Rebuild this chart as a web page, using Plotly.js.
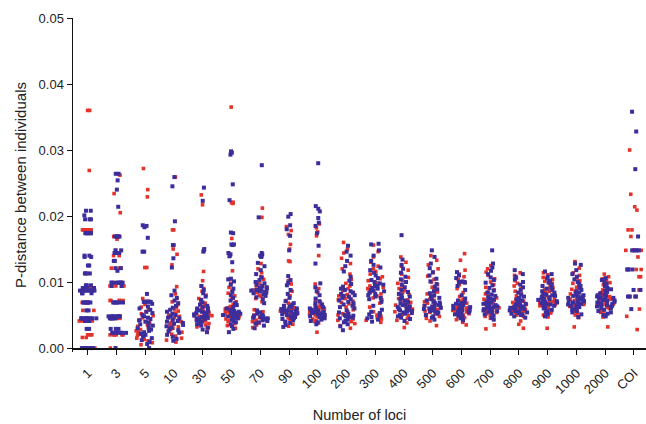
<!DOCTYPE html>
<html><head><meta charset="utf-8">
<script src="https://cdn.plot.ly/plotly-3.0.1.min.js"></script>
<style>html,body{margin:0;padding:0;background:#fff}#chart{width:646px;height:424px}</style>
</head><body><div id="chart"></div>
<script>
const categories = ["1","3","5","10","30","50","70","90","100","200","300","400","500","600","700","800","900","1000","2000","COI"];

const red_1 = [0.0360,0.0360,0.0269,0.0179,0.0179,0.0179,0.0179,0.0179,0.0179,0.0179,0.0179,0.0174,0.0174,0.0113,0.0113,0.0091,0.0091,0.0091,0.0091,0.0069,0.0069,0.0069,0.0069,0.0057,0.0057,0.0041,0.0041,0.0041,0.0041,0.0041,0.0041,0.0020,0.0020,0.0020,0.0016,0.0016,0,0,0];
const blue_1 = [0.0208,0.0208,0.0201,0.0195,0.0195,0.0195,0.0174,0.0174,0.0174,0.0174,0.0174,0.0174,0.0140,0.0140,0.0138,0.0138,0.0125,0.0125,0.0113,0.0113,0.0113,0.0095,0.0095,0.0095,0.0091,0.0091,0.0091,0.0091,0.0087,0.0087,0.0087,0.0087,0.0087,0.0087,0.0087,0.0087,0.0083,0.0083,0.0083,0.0069,0.0069,0.0069,0.0069,0.0069,0.0069,0.0057,0.0057,0.0045,0.0045,0.0045,0.0045,0.0045,0.0045,0.0045,0.0045,0.0045,0.0045,0.0041,0.0041,0.0029,0.0029,0,0,0,0,0,0,0];

const red_3 = [0.0262,0.0234,0.0205,0.0169,0.0169,0.0165,0.0148,0.0140,0.0140,0.0121,0.0121,0.0121,0.0099,0.0099,0.0099,0.0099,0.0094,0.0094,0.0094,0.0072,0.0072,0.0072,0.0072,0.0072,0.0045,0.0045,0.0045,0.0045,0.0045,0.0020,0.0020,0.0020,0.0020,0.0020,0.0020,0];
const blue_3 = [0.0264,0.0264,0.0254,0.0240,0.0214,0.0169,0.0169,0.0169,0.0169,0.0169,0.0148,0.0148,0.0144,0.0144,0.0144,0.0144,0.0144,0.0132,0.0132,0.0121,0.0121,0.0117,0.0099,0.0099,0.0099,0.0099,0.0099,0.0099,0.0099,0.0099,0.0094,0.0094,0.0069,0.0069,0.0069,0.0069,0.0069,0.0069,0.0048,0.0048,0.0048,0.0048,0.0048,0.0048,0.0048,0.0048,0.0045,0.0045,0.0045,0.0045,0.0045,0.0029,0.0029,0.0029,0.0023,0.0023,0.0023,0.0023,0.0023,0.0023,0.0023,0.0023,0];

const red_5 = [0.0272,0.0240,0.0229,0.0122,0.0122,0.0075,0.0071,0.0066,0.0062,0.0058,0.0055,0.0052,0.0049,0.0046,0.0043,0.0040,0.0038,0.0035,0.0033,0.0030,0.0028,0.0026,0.0024,0.0021,0.0019,0.0017,0.0015,0.0013,0.0011,0.0008,0.0005];
const blue_5 = [0.0186,0.0185,0.0183,0.0167,0.0146,0.0146,0.0082,0.0070,0.0070,0.0070,0.0070,0.0070,0.0070,0.0067,0.0063,0.0060,0.0058,0.0055,0.0053,0.0050,0.0048,0.0046,0.0044,0.0042,0.0040,0.0038,0.0036,0.0034,0.0032,0.0030,0.0028,0.0026,0.0024,0.0022,0.0020,0.0018,0.0015,0.0012,0.0009,0.0006,0];

const red_10 = [0.0259,0.0179,0.0179,0.0156,0.0150,0.0142,0.0126,0.0093,0.0082,0.0075,0.0070,0.0066,0.0062,0.0059,0.0056,0.0053,0.0050,0.0048,0.0046,0.0044,0.0042,0.0040,0.0038,0.0036,0.0034,0.0032,0.0030,0.0028,0.0026,0.0024,0.0021,0.0018,0.0015,0.0012,0.0009];
const blue_10 = [0.0259,0.0245,0.0192,0.0156,0.0136,0.0122,0.0087,0.0080,0.0076,0.0072,0.0068,0.0064,0.0061,0.0058,0.0055,0.0052,0.0050,0.0048,0.0046,0.0045,0.0043,0.0041,0.0040,0.0038,0.0037,0.0035,0.0033,0.0031,0.0029,0.0027,0.0025,0.0023,0.0020,0.0017,0.0014,0.0011];

const red_30 = [0.0232,0.0217,0.0116,0.0102,0.0094,0.0090,0.0086,0.0080,0.0075,0.0071,0.0068,0.0065,0.0063,0.0061,0.0059,0.0057,0.0056,0.0054,0.0053,0.0052,0.0051,0.0050,0.0049,0.0048,0.0047,0.0046,0.0045,0.0044,0.0043,0.0041,0.0039,0.0037,0.0035,0.0032,0.0029];
const blue_30 = [0.0243,0.0223,0.0150,0.0148,0.0146,0.0094,0.0088,0.0083,0.0078,0.0073,0.0069,0.0066,0.0064,0.0062,0.0060,0.0059,0.0058,0.0057,0.0056,0.0055,0.0054,0.0053,0.0052,0.0051,0.0050,0.0050,0.0049,0.0048,0.0047,0.0046,0.0045,0.0044,0.0043,0.0042,0.0040,0.0038,0.0036,0.0034,0.0031,0.0028,0.0024];

const red_50 = [0.0365,0.0221,0.0220,0.0219,0.0166,0.0140,0.0117,0.0105,0.0098,0.0092,0.0087,0.0083,0.0079,0.0075,0.0070,0.0066,0.0063,0.0061,0.0059,0.0057,0.0056,0.0055,0.0054,0.0053,0.0052,0.0051,0.0050,0.0049,0.0048,0.0046,0.0044,0.0042,0.0040,0.0037,0.0034,0.0030];
const blue_50 = [0.0298,0.0296,0.0293,0.0248,0.0224,0.0175,0.0174,0.0157,0.0156,0.0157,0.0144,0.0142,0.0139,0.0130,0.0105,0.0104,0.0101,0.0096,0.0090,0.0085,0.0080,0.0076,0.0072,0.0068,0.0065,0.0062,0.0060,0.0058,0.0057,0.0056,0.0055,0.0054,0.0053,0.0052,0.0051,0.0050,0.0049,0.0048,0.0047,0.0046,0.0045,0.0043,0.0041,0.0039,0.0036,0.0033,0.0029,0.0024];

const red_70 = [0.0212,0.0198,0.0128,0.0120,0.0114,0.0108,0.0104,0.0100,0.0097,0.0094,0.0092,0.0090,0.0088,0.0086,0.0085,0.0084,0.0082,0.0080,0.0078,0.0075,0.0070,0.0058,0.0055,0.0052,0.0050,0.0048,0.0046,0.0045,0.0044,0.0043,0.0042,0.0040,0.0038,0.0035,0.0031];
const blue_70 = [0.0277,0.0198,0.0144,0.0142,0.0140,0.0139,0.0138,0.0129,0.0124,0.0118,0.0112,0.0107,0.0103,0.0100,0.0098,0.0096,0.0094,0.0092,0.0091,0.0090,0.0089,0.0088,0.0087,0.0086,0.0085,0.0084,0.0083,0.0081,0.0079,0.0077,0.0074,0.0068,0.0057,0.0054,0.0052,0.0050,0.0049,0.0048,0.0047,0.0046,0.0045,0.0044,0.0043,0.0042,0.0041,0.0039,0.0037,0.0034,0.0030];

const red_90 = [0.0184,0.0178,0.0172,0.0157,0.0150,0.0132,0.0131,0.0102,0.0097,0.0086,0.0079,0.0072,0.0068,0.0065,0.0063,0.0061,0.0060,0.0059,0.0058,0.0057,0.0056,0.0055,0.0054,0.0053,0.0052,0.0051,0.0050,0.0049,0.0048,0.0046,0.0044,0.0042,0.0039,0.0036,0.0033];
const blue_90 = [0.0203,0.0199,0.0186,0.0180,0.0170,0.0148,0.0109,0.0103,0.0099,0.0095,0.0088,0.0082,0.0076,0.0071,0.0068,0.0066,0.0064,0.0063,0.0062,0.0061,0.0060,0.0059,0.0058,0.0057,0.0056,0.0056,0.0055,0.0054,0.0053,0.0052,0.0051,0.0050,0.0049,0.0048,0.0047,0.0046,0.0045,0.0044,0.0042,0.0040,0.0038,0.0035,0.0032];

const red_100 = [0.0188,0.0182,0.0176,0.0170,0.0140,0.0097,0.0090,0.0084,0.0073,0.0069,0.0066,0.0064,0.0062,0.0060,0.0059,0.0058,0.0057,0.0056,0.0055,0.0054,0.0053,0.0052,0.0051,0.0050,0.0049,0.0048,0.0047,0.0046,0.0044,0.0042,0.0040,0.0038,0.0024];
const blue_100 = [0.0280,0.0215,0.0211,0.0207,0.0197,0.0190,0.0185,0.0174,0.0155,0.0128,0.0098,0.0092,0.0086,0.0080,0.0075,0.0071,0.0068,0.0066,0.0064,0.0062,0.0061,0.0060,0.0059,0.0058,0.0057,0.0056,0.0055,0.0054,0.0053,0.0052,0.0051,0.0050,0.0049,0.0048,0.0047,0.0046,0.0045,0.0043,0.0041,0.0039,0.0036];

const red_200 = [0.0160,0.0150,0.0144,0.0136,0.0128,0.0120,0.0112,0.0104,0.0098,0.0094,0.0090,0.0087,0.0084,0.0081,0.0079,0.0077,0.0075,0.0073,0.0071,0.0069,0.0067,0.0065,0.0062,0.0058,0.0055,0.0052,0.0050,0.0048,0.0046,0.0044,0.0042,0.0040,0.0037,0.0034,0.0030];
const blue_200 = [0.0155,0.0146,0.0140,0.0132,0.0124,0.0116,0.0108,0.0102,0.0097,0.0093,0.0090,0.0088,0.0086,0.0084,0.0082,0.0080,0.0079,0.0078,0.0076,0.0074,0.0072,0.0070,0.0068,0.0066,0.0064,0.0062,0.0060,0.0057,0.0054,0.0052,0.0050,0.0049,0.0048,0.0047,0.0046,0.0045,0.0043,0.0041,0.0039,0.0036,0.0033,0.0027];

const red_300 = [0.0156,0.0146,0.0138,0.0130,0.0124,0.0120,0.0116,0.0112,0.0108,0.0105,0.0102,0.0099,0.0096,0.0094,0.0092,0.0090,0.0088,0.0086,0.0084,0.0082,0.0079,0.0076,0.0073,0.0068,0.0062,0.0055,0.0052,0.0050,0.0048,0.0046,0.0044,0.0042,0.0039];
const blue_300 = [0.0158,0.0157,0.0148,0.0140,0.0132,0.0126,0.0122,0.0118,0.0114,0.0110,0.0106,0.0103,0.0100,0.0098,0.0096,0.0094,0.0093,0.0091,0.0090,0.0088,0.0087,0.0086,0.0084,0.0082,0.0080,0.0078,0.0076,0.0074,0.0070,0.0064,0.0058,0.0055,0.0053,0.0051,0.0049,0.0047,0.0045,0.0043,0.0040];

const red_400 = [0.0138,0.0130,0.0124,0.0118,0.0112,0.0107,0.0102,0.0098,0.0094,0.0090,0.0087,0.0084,0.0081,0.0078,0.0075,0.0073,0.0071,0.0069,0.0067,0.0065,0.0063,0.0061,0.0059,0.0057,0.0055,0.0053,0.0051,0.0049,0.0047,0.0045,0.0042,0.0038,0.0031];
const blue_400 = [0.0171,0.0134,0.0126,0.0120,0.0114,0.0108,0.0104,0.0100,0.0096,0.0092,0.0088,0.0085,0.0082,0.0080,0.0078,0.0076,0.0074,0.0072,0.0070,0.0068,0.0066,0.0065,0.0063,0.0062,0.0061,0.0060,0.0059,0.0058,0.0057,0.0056,0.0055,0.0054,0.0053,0.0052,0.0050,0.0048,0.0046,0.0044,0.0041];

const red_500 = [0.0140,0.0133,0.0126,0.0120,0.0114,0.0109,0.0104,0.0100,0.0096,0.0092,0.0088,0.0085,0.0082,0.0079,0.0076,0.0074,0.0072,0.0070,0.0068,0.0066,0.0064,0.0062,0.0061,0.0060,0.0058,0.0056,0.0054,0.0052,0.0050,0.0048,0.0045,0.0041,0.0034];
const blue_500 = [0.0148,0.0138,0.0128,0.0121,0.0115,0.0110,0.0105,0.0101,0.0097,0.0093,0.0089,0.0086,0.0083,0.0080,0.0078,0.0076,0.0074,0.0072,0.0070,0.0069,0.0068,0.0066,0.0065,0.0064,0.0063,0.0062,0.0061,0.0060,0.0059,0.0058,0.0057,0.0056,0.0055,0.0054,0.0052,0.0050,0.0048,0.0046,0.0043];

const red_600 = [0.0143,0.0133,0.0118,0.0112,0.0108,0.0104,0.0100,0.0096,0.0090,0.0084,0.0078,0.0074,0.0071,0.0068,0.0066,0.0064,0.0062,0.0061,0.0060,0.0059,0.0058,0.0057,0.0056,0.0055,0.0054,0.0053,0.0052,0.0051,0.0050,0.0048,0.0046,0.0043,0.0039,0.0035];
const blue_600 = [0.0115,0.0110,0.0106,0.0101,0.0100,0.0100,0.0100,0.0099,0.0094,0.0088,0.0080,0.0075,0.0072,0.0070,0.0068,0.0067,0.0066,0.0065,0.0064,0.0063,0.0062,0.0061,0.0060,0.0059,0.0059,0.0058,0.0057,0.0056,0.0055,0.0054,0.0053,0.0052,0.0051,0.0050,0.0049,0.0047,0.0045,0.0042];

const red_700 = [0.0125,0.0120,0.0115,0.0110,0.0105,0.0100,0.0096,0.0092,0.0088,0.0085,0.0082,0.0079,0.0076,0.0074,0.0072,0.0070,0.0068,0.0066,0.0064,0.0062,0.0061,0.0060,0.0059,0.0058,0.0057,0.0056,0.0055,0.0054,0.0052,0.0050,0.0048,0.0045,0.0035,0.0029];
const blue_700 = [0.0148,0.0128,0.0122,0.0117,0.0112,0.0107,0.0103,0.0099,0.0095,0.0091,0.0087,0.0084,0.0081,0.0079,0.0077,0.0075,0.0073,0.0071,0.0069,0.0068,0.0067,0.0066,0.0065,0.0064,0.0063,0.0062,0.0061,0.0060,0.0059,0.0058,0.0057,0.0056,0.0055,0.0053,0.0051,0.0049,0.0046,0.0043];

const red_800 = [0.0114,0.0110,0.0106,0.0102,0.0098,0.0094,0.0090,0.0086,0.0082,0.0079,0.0076,0.0073,0.0071,0.0069,0.0067,0.0066,0.0065,0.0064,0.0063,0.0062,0.0061,0.0060,0.0059,0.0058,0.0057,0.0056,0.0055,0.0054,0.0052,0.0050,0.0048,0.0041,0.0036,0.0030];
const blue_800 = [0.0118,0.0112,0.0108,0.0104,0.0100,0.0096,0.0092,0.0088,0.0084,0.0081,0.0078,0.0076,0.0074,0.0072,0.0070,0.0069,0.0068,0.0067,0.0066,0.0065,0.0064,0.0063,0.0062,0.0061,0.0060,0.0060,0.0059,0.0058,0.0057,0.0056,0.0055,0.0054,0.0053,0.0052,0.0051,0.0050,0.0048,0.0046];

const red_900 = [0.0114,0.0111,0.0107,0.0104,0.0101,0.0098,0.0095,0.0092,0.0090,0.0088,0.0086,0.0084,0.0082,0.0080,0.0078,0.0076,0.0074,0.0072,0.0071,0.0070,0.0069,0.0068,0.0067,0.0066,0.0065,0.0064,0.0063,0.0062,0.0060,0.0058,0.0056,0.0053,0.0050,0.0047,0.0030];
const blue_900 = [0.0116,0.0112,0.0108,0.0105,0.0102,0.0099,0.0096,0.0094,0.0092,0.0090,0.0088,0.0086,0.0084,0.0082,0.0081,0.0080,0.0079,0.0078,0.0077,0.0076,0.0075,0.0074,0.0073,0.0072,0.0071,0.0070,0.0069,0.0068,0.0067,0.0066,0.0065,0.0064,0.0062,0.0060,0.0058,0.0056,0.0054,0.0051,0.0048];

const red_1000 = [0.0131,0.0121,0.0114,0.0110,0.0106,0.0102,0.0098,0.0095,0.0092,0.0089,0.0086,0.0084,0.0082,0.0080,0.0078,0.0076,0.0074,0.0072,0.0071,0.0070,0.0069,0.0068,0.0067,0.0066,0.0065,0.0064,0.0063,0.0062,0.0060,0.0058,0.0056,0.0053,0.0050,0.0046,0.0032];
const blue_1000 = [0.0128,0.0126,0.0118,0.0112,0.0108,0.0104,0.0100,0.0097,0.0094,0.0091,0.0088,0.0086,0.0084,0.0082,0.0080,0.0079,0.0078,0.0077,0.0076,0.0075,0.0074,0.0073,0.0072,0.0071,0.0070,0.0069,0.0068,0.0067,0.0066,0.0065,0.0064,0.0063,0.0062,0.0060,0.0058,0.0056,0.0054,0.0051,0.0047];

const red_2000 = [0.0112,0.0108,0.0105,0.0102,0.0099,0.0096,0.0093,0.0090,0.0088,0.0086,0.0084,0.0082,0.0080,0.0078,0.0076,0.0074,0.0073,0.0072,0.0071,0.0070,0.0069,0.0068,0.0067,0.0066,0.0065,0.0064,0.0063,0.0062,0.0060,0.0058,0.0056,0.0054,0.0051,0.0047,0.0032];
const blue_2000 = [0.0106,0.0103,0.0100,0.0097,0.0094,0.0091,0.0089,0.0087,0.0085,0.0083,0.0081,0.0080,0.0079,0.0078,0.0077,0.0076,0.0075,0.0074,0.0073,0.0072,0.0071,0.0070,0.0069,0.0068,0.0067,0.0066,0.0065,0.0064,0.0063,0.0062,0.0061,0.0060,0.0058,0.0056,0.0054,0.0052,0.0050,0.0048];

const red_COI = [0.0300,0.0233,0.0214,0.0209,0.0179,0.0179,0.0169,0.0148,0.0148,0.0148,0.0148,0.0138,0.0119,0.0119,0.0119,0.0108,0.0108,0.0088,0.0078,0.0078,0.0078,0.0059,0.0048,0.0028];
const blue_COI = [0.0358,0.0328,0.0271,0.0169,0.0148,0.0148,0.0148,0.0148,0.0119,0.0119,0.0119,0.0088,0.0088,0.0078,0.0078,0.0078,0.0059];

const redSeries = [red_1,red_3,red_5,red_10,red_30,red_50,red_70,red_90,red_100,red_200,red_300,red_400,red_500,red_600,red_700,red_800,red_900,red_1000,red_2000,red_COI];
const blueSeries = [blue_1,blue_3,blue_5,blue_10,blue_30,blue_50,blue_70,blue_90,blue_100,blue_200,blue_300,blue_400,blue_500,blue_600,blue_700,blue_800,blue_900,blue_1000,blue_2000,blue_COI];

function flatten(series) {
  const xs = [], ys = [];
  series.forEach((vals, i) => vals.forEach(v => { xs.push(categories[i]); ys.push(v); }));
  return {xs, ys};
}

function mkTrace(series, color, size) {
  const d = flatten(series);
  return {
    type: 'box', x: d.xs, y: d.ys,
    boxpoints: 'all', jitter: 1, pointpos: 0, width: 0.66,
    fillcolor: 'rgba(0,0,0,0)', line: {width: 0, color: 'rgba(0,0,0,0)'},
    marker: {color: color, size: size, symbol: 'square', line: {width: 0}},
    showlegend: false, hoverinfo: 'y'
  };
}

const yMin = -0.0006, yMax = 0.05;
const fam = 'Liberation Sans, Arial, sans-serif';

const data = [mkTrace(redSeries, '#e5322b', 3.6), mkTrace(blueSeries, '#3b2e9c', 4)];

const layout = {
  width: 646, height: 424,
  margin: {l: 73, r: 0, t: 18, b: 72},
  paper_bgcolor: '#fff', plot_bgcolor: '#fff',
  font: {family: fam, color: '#222'},
  showlegend: false,
  boxmode: 'overlay',
  xaxis: {
    type: 'category', categoryorder: 'array', categoryarray: categories,
    range: [-0.52, 19.42],
    anchor: 'free', position: (0 - yMin) / (yMax - yMin),
    showline: true, linecolor: '#111', linewidth: 1.5,
    ticks: 'outside', ticklen: 5, tickwidth: 1, tickcolor: '#111',
    tickangle: -45, ticklabelstandoff: 6,
    tickfont: {size: 13, family: fam, color: '#222'},
    showgrid: false, zeroline: false,
    title: {text: 'Number of loci', font: {size: 14.5, family: fam, color: '#222'}, standoff: 14}
  },
  yaxis: {
    range: [yMin, yMax], dtick: 0.01, tick0: 0, tickformat: '.2f',
    showline: true, linecolor: '#111', linewidth: 1.5,
    ticks: 'outside', ticklen: 5, tickwidth: 1, tickcolor: '#111',
    tickfont: {size: 13, family: fam, color: '#222'},
    showgrid: false, zeroline: false,
    title: {text: 'P-distance between individuals', font: {size: 15, family: fam, color: '#222'}, standoff: 8}
  }
};

Plotly.newPlot('chart', data, layout, {staticPlot: true, displayModeBar: false});
</script></body></html>
